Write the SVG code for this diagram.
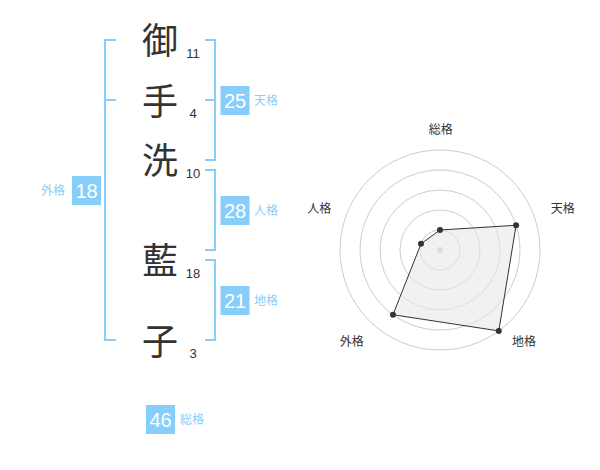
<svg xmlns="http://www.w3.org/2000/svg" width="600" height="470" viewBox="0 0 600 470">
<style>
.k{font-family:"Noto Sans CJK JP","Noto Sans CJK SC",sans-serif;font-size:36px;fill:#333;text-anchor:middle}
.n{font-family:"Liberation Sans",Arial,sans-serif;font-size:13px;fill:#333;text-anchor:middle}
.br{fill:none;stroke:#87cefa;stroke-width:2}
.bx{fill:#87cefa}
.bn{font-family:"Liberation Sans",Arial,sans-serif;font-size:20px;fill:#fff;text-anchor:middle}
.bl{font-family:"Noto Sans CJK JP","Noto Sans CJK SC",sans-serif;font-size:12px;fill:#87cefa}
.ring{fill:none;stroke:#ccc;stroke-width:1}
.rl{font-family:"Noto Sans CJK JP","Noto Sans CJK SC",sans-serif;font-size:12px;fill:#333;text-anchor:middle}
.pt{fill:#333}
</style>
<rect width="600" height="470" fill="#fff"/>
<g id="chars">
<text class="k" x="160" y="54">御</text>
<text class="k" x="160" y="115">手</text>
<text class="k" x="160" y="174">洗</text>
<text class="k" x="160" y="274">藍</text>
<text class="k" x="160" y="355">子</text>
</g>
<g id="strokes">
<text class="n" x="193" y="58">11</text>
<text class="n" x="193" y="118">4</text>
<text class="n" x="193" y="178">10</text>
<text class="n" x="193" y="278">18</text>
<text class="n" x="193" y="358">3</text>
</g>
<g id="connectors">
<path class="br" d="M116,40 H105 V340 H116 M105,100 H116"/>
<path class="br" d="M205,40 H215 V160 H205 M205,100 H215"/>
<path class="br" d="M205,170 H215 V250 H205"/>
<path class="br" d="M205,260 H215 V340 H205"/>
</g>
<g id="gaikaku">
<rect class="bx" x="72" y="176" width="29" height="29"/>
<text class="bn" x="86.5" y="198">18</text>
<text class="bl" x="65" y="195" text-anchor="end">外格</text>
</g>
<g id="tenkaku">
<rect class="bx" x="220.5" y="86" width="29" height="29"/>
<text class="bn" x="235" y="108">25</text>
<text class="bl" x="254" y="105">天格</text>
</g>
<g id="jinkaku">
<rect class="bx" x="220.5" y="196" width="29" height="29"/>
<text class="bn" x="235" y="218">28</text>
<text class="bl" x="254" y="215">人格</text>
</g>
<g id="chikaku">
<rect class="bx" x="220.5" y="286" width="29" height="29"/>
<text class="bn" x="235" y="308">21</text>
<text class="bl" x="254" y="305">地格</text>
</g>
<g id="soukaku">
<rect class="bx" x="146" y="405" width="29" height="29"/>
<text class="bn" x="160.5" y="427">46</text>
<text class="bl" x="180" y="424">総格</text>
</g>
<g id="radar">
<circle class="ring" cx="440" cy="250" r="20"/>
<circle class="ring" cx="440" cy="250" r="40"/>
<circle class="ring" cx="440" cy="250" r="60"/>
<circle class="ring" cx="440" cy="250" r="80"/>
<circle class="ring" cx="440" cy="250" r="100"/>
<circle cx="440" cy="250" r="3" fill="#ccc"/>
<polygon points="440,230 516.08,225.28 498.78,330.90 392.98,314.72 420.98,243.82" fill="#e8e8e8" fill-opacity="0.6" stroke="#333" stroke-width="1"/>
<circle class="pt" cx="440" cy="230" r="3"/>
<circle class="pt" cx="516.08" cy="225.28" r="3"/>
<circle class="pt" cx="498.78" cy="330.90" r="3"/>
<circle class="pt" cx="392.98" cy="314.72" r="3"/>
<circle class="pt" cx="420.98" cy="243.82" r="3"/>
<text class="rl" x="440.7" y="134">総格</text>
<text class="rl" x="562.7" y="212.5">天格</text>
<text class="rl" x="524" y="346">地格</text>
<text class="rl" x="351.7" y="346">外格</text>
<text class="rl" x="319.3" y="212.5">人格</text>
</g>
</svg>
